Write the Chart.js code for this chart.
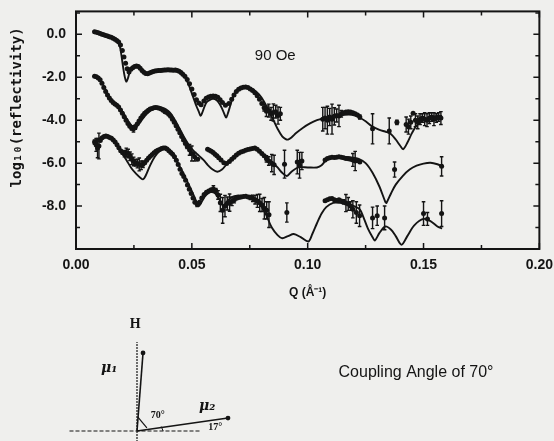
<!DOCTYPE html>
<html>
<head>
<meta charset="utf-8">
<script src="https://cdn.jsdelivr.net/npm/chart.js@4.4.0/dist/chart.umd.min.js"></script>
<style>
  html, body { margin: 0; padding: 0; background: #efefed; }
  #wrap { position: relative; width: 554px; height: 441px; overflow: hidden; }
  #mainBox { position: absolute; left: 0; top: -7px; width: 561px; height: 312px; }
  #vecBox { position: absolute; left: 0; top: 305px; width: 554px; height: 136px; }
</style>
</head>
<body>
<div id="wrap">
  <div id="mainBox"><canvas id="reflChart" width="561" height="312"></canvas></div>
  <div id="vecBox"><canvas id="vecChart" width="554" height="136"></canvas></div>
</div>
<script>
// measured points: [Q, log10(R), error bar half length]
const upPoints = [
  [0.0080,0.12,0],[0.0088,0.10,0],[0.0096,0.07,0],[0.0104,0.04,0],[0.0112,0.01,0],[0.0120,-0.02,0],
  [0.0128,-0.05,0],[0.0136,-0.08,0],[0.0144,-0.11,0],[0.0152,-0.14,0],[0.0160,-0.18,0],[0.0168,-0.23,0],
  [0.0176,-0.29,0],[0.0184,-0.36,0],[0.0192,-0.50,0],[0.0200,-0.75,0],[0.0207,-1.05,0],[0.0214,-1.35,0],
  [0.0221,-1.60,0],[0.0229,-1.75,0],[0.0237,-1.62,0],[0.0245,-1.55,0],[0.0253,-1.50,0],[0.0261,-1.47,0],
  [0.0269,-1.50,0],[0.0277,-1.58,0],[0.0285,-1.68,0],[0.0293,-1.76,0],[0.0301,-1.82,0],[0.0309,-1.84,0],
  [0.0317,-1.80,0],[0.0325,-1.76,0],[0.0333,-1.73,0],[0.0341,-1.71,0],[0.0349,-1.70,0],[0.0357,-1.68,0],
  [0.0365,-1.68,0],[0.0373,-1.67,0],[0.0381,-1.66,0],[0.0389,-1.66,0],[0.0397,-1.65,0],[0.0405,-1.66,0],
  [0.0413,-1.66,0],[0.0421,-1.67,0],[0.0429,-1.66,0],[0.0437,-1.68,0],[0.0445,-1.72,0],[0.0453,-1.78,0],
  [0.0461,-1.86,0],[0.0470,-1.95,0],[0.0480,-2.10,0],[0.0490,-2.30,0],[0.0500,-2.55,0],[0.0510,-2.80,0],
  [0.0520,-3.05,0],[0.0530,-3.20,0],[0.0540,-3.28,0],[0.0552,-3.10,0],[0.0562,-2.98,0],[0.0572,-2.92,0],
  [0.0582,-2.88,0],[0.0592,-2.87,0],[0.0602,-2.88,0],[0.0612,-2.93,0],[0.0622,-3.05,0],[0.0632,-3.18,0],
  [0.0645,-3.30,0],[0.0660,-3.22,0],[0.0672,-3.02,0],[0.0682,-2.82,0],[0.0692,-2.66,0],[0.0702,-2.56,0],
  [0.0712,-2.50,0],[0.0722,-2.46,0],[0.0732,-2.45,0],[0.0742,-2.48,0],[0.0752,-2.54,0],[0.0762,-2.62,0],
  [0.0772,-2.72,0],[0.0782,-2.86,0],[0.0792,-3.02,0],[0.0802,-3.22,0],[0.0812,-3.42,0.15],[0.0822,-3.58,0.25],
  [0.0832,-3.55,0.3],[0.0842,-3.70,0.3],[0.0852,-3.64,0.4],[0.0862,-3.60,0.3],[0.0872,-3.78,0.4],[0.0882,-3.70,0.3],
  [0.1065,-3.95,0.55],[0.1075,-3.90,0.5],[0.1085,-4.00,0.65],[0.1095,-3.85,0.4],[0.1105,-3.95,0.7],[0.1115,-3.82,0.4],
  [0.1125,-3.78,0.3],[0.1135,-3.80,0.5],[0.1145,-3.70,0.15],[0.1155,-3.65,0],[0.1165,-3.62,0],[0.1175,-3.60,0],
  [0.1185,-3.62,0],[0.1195,-3.65,0],[0.1205,-3.70,0],[0.1215,-3.76,0],[0.1225,-3.85,0.1],
  [0.1280,-4.40,0.7],[0.1352,-4.50,0.6],[0.1385,-4.10,0.1],[0.1425,-4.20,0.35],[0.1435,-4.30,0.35],
  [0.1445,-4.10,0.3],[0.1455,-3.67,0],[0.1465,-4.00,0.3],[0.1475,-4.10,0.3],[0.1485,-3.95,0.25],
  [0.1495,-3.90,0.2],[0.1505,-3.95,0.3],[0.1515,-4.00,0.3],[0.1525,-3.90,0.25],[0.1535,-3.85,0.2],
  [0.1545,-3.95,0.3],[0.1555,-3.90,0.2],[0.1565,-3.85,0.2],[0.1575,-3.90,0.3]
];

const downPoints = [
  [0.0080,-1.95,0],[0.0088,-1.98,0],[0.0096,-2.03,0],[0.0104,-2.12,0],[0.0112,-2.28,0],[0.0120,-2.48,0],
  [0.0128,-2.66,0],[0.0136,-2.82,0],[0.0144,-2.96,0],[0.0152,-3.08,0],[0.0160,-3.18,0],[0.0168,-3.25,0],
  [0.0176,-3.30,0],[0.0184,-3.38,0],[0.0192,-3.52,0],[0.0200,-3.68,0],[0.0208,-3.84,0],[0.0216,-4.00,0],
  [0.0224,-4.15,0],[0.0232,-4.28,0],[0.0240,-4.36,0.1],[0.0248,-4.40,0.15],[0.0256,-4.32,0.1],[0.0264,-4.18,0],
  [0.0272,-4.04,0],[0.0280,-3.90,0],[0.0288,-3.78,0],[0.0296,-3.68,0],[0.0304,-3.60,0],[0.0312,-3.53,0],
  [0.0320,-3.48,0],[0.0328,-3.45,0],[0.0336,-3.42,0],[0.0344,-3.41,0],[0.0352,-3.42,0],[0.0360,-3.44,0],
  [0.0368,-3.48,0],[0.0376,-3.54,0],[0.0384,-3.60,0],[0.0392,-3.64,0],[0.0400,-3.72,0],[0.0408,-3.82,0],
  [0.0416,-3.95,0],[0.0424,-4.10,0],[0.0432,-4.26,0],[0.0440,-4.42,0],[0.0448,-4.58,0],[0.0456,-4.76,0],
  [0.0464,-4.92,0],[0.0472,-5.08,0],[0.0480,-5.22,0.1],[0.0490,-5.38,0.25],[0.0500,-5.55,0.35],[0.0512,-5.70,0.2],
  [0.0525,-5.82,0],[0.0568,-5.35,0],[0.0576,-5.40,0],[0.0584,-5.45,0],[0.0592,-5.50,0],[0.0600,-5.58,0],
  [0.0608,-5.66,0],[0.0616,-5.75,0],[0.0626,-5.85,0],[0.0638,-5.98,0],[0.0650,-6.02,0],[0.0662,-5.92,0],
  [0.0672,-5.82,0],[0.0682,-5.72,0],[0.0692,-5.62,0],[0.0702,-5.54,0],[0.0712,-5.48,0],[0.0722,-5.44,0],
  [0.0732,-5.40,0],[0.0742,-5.37,0],[0.0752,-5.34,0],[0.0762,-5.32,0],[0.0772,-5.30,0],[0.0782,-5.35,0],
  [0.0792,-5.45,0],[0.0802,-5.55,0],[0.0812,-5.66,0],[0.0822,-5.80,0.15],[0.0832,-5.90,0.2],[0.0845,-6.00,0.4],
  [0.0855,-6.08,0.45],[0.0900,-6.05,0.65],[0.0955,-5.95,0.55],[0.0965,-6.10,0.6],[0.0975,-5.90,0.4],
  [0.1075,-5.85,0],[0.1085,-5.78,0],[0.1095,-5.75,0],[0.1105,-5.72,0],[0.1115,-5.74,0],[0.1125,-5.72,0],
  [0.1135,-5.70,0],[0.1145,-5.73,0],[0.1155,-5.75,0],[0.1165,-5.78,0],[0.1175,-5.80,0],[0.1185,-5.82,0],
  [0.1195,-5.85,0.3],[0.1205,-5.90,0.45],[0.1215,-5.88,0],[0.1225,-5.95,0],
  [0.1375,-6.30,0.35],[0.1578,-6.15,0.45]
];

const flipPoints = [
  [0.0080,-5.02,0.1],[0.0087,-5.15,0.3],[0.0093,-5.30,0.45],[0.0099,-5.20,0.6],[0.0105,-4.95,0],[0.0113,-4.82,0],
  [0.0121,-4.76,0],[0.0129,-4.74,0],[0.0137,-4.76,0],[0.0145,-4.80,0],[0.0153,-4.84,0],[0.0161,-4.92,0],
  [0.0169,-5.02,0],[0.0177,-5.14,0],[0.0185,-5.28,0],[0.0193,-5.42,0],[0.0201,-5.52,0],[0.0209,-5.56,0.15],
  [0.0217,-5.50,0.2],[0.0225,-5.55,0.2],[0.0233,-5.68,0.2],[0.0241,-5.82,0.25],[0.0249,-5.92,0.2],[0.0257,-5.98,0.15],
  [0.0265,-6.02,0.2],[0.0273,-6.06,0.3],[0.0281,-6.10,0.2],[0.0289,-6.05,0.15],[0.0297,-5.98,0],[0.0305,-5.86,0],
  [0.0313,-5.76,0],[0.0321,-5.68,0],[0.0329,-5.60,0],[0.0337,-5.52,0],[0.0345,-5.45,0],[0.0353,-5.40,0],
  [0.0361,-5.36,0],[0.0369,-5.32,0],[0.0377,-5.30,0],[0.0385,-5.30,0],[0.0393,-5.34,0],[0.0401,-5.42,0],
  [0.0409,-5.50,0],[0.0417,-5.58,0],[0.0425,-5.70,0],[0.0433,-5.86,0],[0.0441,-6.06,0],[0.0449,-6.28,0],
  [0.0457,-6.48,0],[0.0465,-6.62,0],[0.0473,-6.80,0],[0.0481,-7.02,0],[0.0489,-7.22,0],[0.0497,-7.42,0],
  [0.0505,-7.62,0],[0.0513,-7.82,0],[0.0523,-7.92,0.1],[0.0533,-7.82,0],[0.0543,-7.62,0],[0.0553,-7.46,0],
  [0.0563,-7.36,0],[0.0573,-7.30,0],[0.0583,-7.24,0],[0.0593,-7.20,0.15],[0.0603,-7.28,0.1],[0.0613,-7.48,0.2],
  [0.0623,-7.85,0.4],[0.0633,-8.20,0.6],[0.0643,-8.00,0.5],[0.0653,-7.88,0.3],[0.0663,-7.84,0.4],[0.0673,-7.78,0.2],
  [0.0683,-7.70,0.15],[0.0693,-7.64,0],[0.0703,-7.60,0],[0.0713,-7.58,0],[0.0723,-7.55,0],[0.0733,-7.54,0],
  [0.0743,-7.58,0],[0.0753,-7.60,0.1],[0.0763,-7.64,0.15],[0.0773,-7.70,0.2],[0.0783,-7.76,0.3],[0.0793,-7.85,0.4],
  [0.0803,-7.95,0.3],[0.0813,-8.10,0.5],[0.0823,-8.20,0.4],[0.0833,-8.40,0.6],[0.0910,-8.30,0.45],
  [0.1075,-7.75,0],[0.1085,-7.70,0],[0.1095,-7.66,0],[0.1105,-7.65,0],[0.1115,-7.70,0],[0.1125,-7.74,0],
  [0.1135,-7.70,0],[0.1145,-7.76,0],[0.1155,-7.80,0.1],[0.1165,-7.86,0.4],[0.1175,-7.90,0.3],[0.1185,-8.00,0.2],
  [0.1195,-8.15,0.4],[0.1210,-8.30,0.5],[0.1224,-8.45,0.5],[0.1280,-8.55,0.5],[0.1300,-8.45,0.45],
  [0.1332,-8.55,0.55],[0.1500,-8.35,0.55],[0.1517,-8.60,0.3],[0.1578,-8.35,0.6]
];

// model curves: [Q, log10(R)]
const upFit = [
  [0.008,0.12],[0.010,0.06],[0.012,0.0],[0.014,-0.10],[0.016,-0.18],[0.017,-0.24],[0.018,-0.33],
  [0.0188,-0.5],[0.0195,-0.9],[0.0203,-1.5],[0.0210,-1.95],[0.0217,-2.2],[0.0224,-2.05],[0.0232,-1.75],
  [0.024,-1.6],[0.025,-1.52],[0.026,-1.48],[0.027,-1.5],[0.028,-1.6],[0.029,-1.72],[0.030,-1.82],
  [0.031,-1.85],[0.032,-1.8],[0.034,-1.72],[0.036,-1.68],[0.038,-1.66],[0.040,-1.65],[0.042,-1.66],
  [0.044,-1.7],[0.045,-1.76],[0.046,-1.85],[0.047,-2.0],[0.048,-2.2],[0.049,-2.45],[0.050,-2.75],
  [0.051,-3.05],[0.052,-3.35],[0.053,-3.6],[0.0538,-3.8],[0.0545,-3.65],[0.0555,-3.35],[0.0565,-3.15],
  [0.0578,-3.05],[0.059,-3.0],[0.060,-3.02],[0.061,-3.1],[0.062,-3.25],[0.063,-3.45],[0.064,-3.7],
  [0.0648,-3.88],[0.0655,-3.7],[0.0665,-3.35],[0.0675,-3.0],[0.069,-2.7],[0.071,-2.55],[0.073,-2.48],
  [0.075,-2.5],[0.077,-2.6],[0.079,-2.8],[0.081,-3.1],[0.083,-3.5],[0.085,-3.95],[0.087,-4.4],
  [0.089,-4.75],[0.0905,-4.88],[0.0915,-4.9],[0.093,-4.8],[0.095,-4.6],[0.098,-4.35],[0.101,-4.15],
  [0.104,-4.0],[0.107,-3.9],[0.110,-3.85],[0.113,-3.8],[0.116,-3.75],[0.119,-3.75],[0.122,-3.85],
  [0.125,-4.05],[0.128,-4.3],[0.131,-4.45],[0.134,-4.55],[0.136,-4.65],[0.138,-4.9],[0.140,-5.2],
  [0.1412,-5.35],[0.143,-5.05],[0.145,-4.6],[0.147,-4.25],[0.150,-4.0],[0.153,-3.85],[0.156,-3.8],[0.158,-3.8]
];

const downFit = [
  [0.008,-1.95],[0.010,-2.1],[0.012,-2.4],[0.014,-2.85],[0.016,-3.15],[0.018,-3.35],[0.020,-3.6],
  [0.022,-3.95],[0.024,-4.25],[0.0255,-4.35],[0.027,-4.2],[0.029,-3.9],[0.031,-3.65],[0.033,-3.5],
  [0.035,-3.43],[0.037,-3.42],[0.039,-3.5],[0.041,-3.7],[0.043,-4.05],[0.045,-4.45],[0.047,-4.85],
  [0.049,-5.2],[0.051,-5.45],[0.053,-5.65],[0.055,-5.85],[0.057,-6.1],[0.059,-6.3],[0.061,-6.4],
  [0.063,-6.3],[0.065,-6.05],[0.067,-5.8],[0.069,-5.6],[0.071,-5.48],[0.073,-5.42],[0.075,-5.35],
  [0.077,-5.35],[0.079,-5.45],[0.081,-5.6],[0.083,-5.8],[0.085,-6.0],[0.087,-6.2],[0.089,-6.45],
  [0.091,-6.6],[0.093,-6.4],[0.096,-6.2],[0.100,-6.2],[0.104,-6.2],[0.106,-6.1],[0.108,-5.85],
  [0.110,-5.75],[0.114,-5.7],[0.118,-5.72],[0.122,-5.8],[0.125,-6.0],[0.128,-6.45],[0.131,-7.1],
  [0.1335,-7.8],[0.134,-7.85],[0.136,-7.4],[0.138,-7.0],[0.141,-6.6],[0.144,-6.3],[0.147,-6.12],
  [0.150,-6.02],[0.153,-5.98],[0.156,-6.05],[0.158,-6.15]
];

const flipFit = [
  [0.008,-5.0],[0.010,-4.85],[0.012,-4.75],[0.014,-4.78],[0.016,-4.9],[0.018,-5.2],[0.020,-5.55],
  [0.022,-5.9],[0.024,-6.25],[0.026,-6.5],[0.028,-6.7],[0.029,-6.75],[0.030,-6.6],[0.032,-6.1],
  [0.034,-5.7],[0.036,-5.45],[0.038,-5.33],[0.040,-5.35],[0.042,-5.6],[0.044,-6.0],[0.046,-6.4],
  [0.048,-6.85],[0.050,-7.3],[0.052,-7.8],[0.053,-8.0],[0.0545,-7.75],[0.056,-7.5],[0.058,-7.35],
  [0.060,-7.4],[0.062,-7.7],[0.0635,-8.0],[0.065,-7.8],[0.067,-7.6],[0.070,-7.5],[0.073,-7.55],
  [0.076,-7.65],[0.079,-7.85],[0.082,-8.4],[0.0845,-9.0],[0.087,-9.35],[0.089,-9.5],[0.0915,-9.4],
  [0.094,-9.3],[0.097,-9.45],[0.1003,-9.65],[0.102,-9.3],[0.104,-8.8],[0.106,-8.35],[0.108,-8.05],
  [0.111,-7.85],[0.114,-7.85],[0.117,-7.9],[0.120,-8.0],[0.1225,-8.15],[0.124,-8.5],[0.126,-9.05],
  [0.128,-9.45],[0.129,-9.6],[0.131,-9.25],[0.1335,-8.95],[0.136,-9.1],[0.138,-9.4],[0.1405,-9.8],
  [0.143,-9.4],[0.146,-8.9],[0.150,-8.6],[0.153,-8.7],[0.156,-8.95],[0.158,-9.05]
];

const xTickValues = [0, 0.05, 0.10, 0.15, 0.20];
const yTickValues = [-8, -6, -4, -2, 0];
const fieldLabel = { text: '90 Oe', q: 0.086, r: -1.0 };

// vector sketch (units of the sketch, origin at the field axis)
const fieldAxis = [[0, -0.12], [0, 0.99]];
const planeLine = [[-0.75, 0], [0.70, 0]];
const mu1Vector = [[0, 0], [0.067, 0.867]];
const mu2Vector = [[0, 0], [1.011, 0.144]];
const angleMark = [[0.008, 0.156], [0.11, 0.034]];
const tiltMark = [[0.29, 0.0], [0.27, 0.05]];
const sketchLabels = [
  { text: 'H', x: -0.02, y: 1.18, font: 'bold 14px "Liberation Serif"' },
  { text: 'μ₁', x: -0.31, y: 0.70, font: 'bold italic 14px "DejaVu Serif"' },
  { text: 'μ₂', x: 0.78, y: 0.27, font: 'bold italic 14px "DejaVu Serif"' },
  { text: '70°', x: 0.23, y: 0.17, font: 'bold 10px "Liberation Serif"' },
  { text: '17°', x: 0.87, y: 0.035, font: 'bold 10px "Liberation Serif"' },
  { text: 'Coupling Angle of 70°', x: 3.10, y: 0.645, font: '16px "Liberation Sans"' }
];

const ink = '#141414';
const toXY = arr => arr.map(p => ({ x: p[0], y: p[1], err: p[2] || 0 }));

function pointSet(points) {
  return {
    type: 'scatter',
    data: toXY(points),
    pointRadius: 2.5,
    pointBackgroundColor: ink,
    pointBorderWidth: 0,
    showLine: false
  };
}

function fitSet(points) {
  return {
    type: 'line',
    data: toXY(points),
    borderColor: ink,
    borderWidth: 1.9,
    pointRadius: 0,
    tension: 0.3,
    fill: false
  };
}

// error bars, frame with inward ticks, y title and the field label
const reflDecor = {
  id: 'reflDecor',
  afterDatasetsDraw(chart) {
    const { ctx, scales: { x, y } } = chart;
    ctx.save();
    ctx.strokeStyle = ink;
    ctx.lineWidth = 1.4;
    chart.data.datasets.forEach(ds => {
      if (ds.type !== 'scatter') return;
      ds.data.forEach(p => {
        if (!p.err) return;
        const px = x.getPixelForValue(p.x);
        const t = y.getPixelForValue(p.y + p.err);
        const b = y.getPixelForValue(p.y - p.err);
        ctx.beginPath();
        ctx.moveTo(px, t); ctx.lineTo(px, b);
        ctx.moveTo(px - 1.8, t); ctx.lineTo(px + 1.8, t);
        ctx.moveTo(px - 1.8, b); ctx.lineTo(px + 1.8, b);
        ctx.stroke();
      });
    });
    ctx.restore();
  },
  afterDraw(chart) {
    const { ctx, chartArea: a, scales: { x, y } } = chart;
    ctx.save();
    ctx.strokeStyle = ink;
    ctx.lineWidth = 2;
    ctx.strokeRect(a.left, a.top, a.right - a.left, a.bottom - a.top);
    ctx.lineWidth = 1.5;
    ctx.beginPath();
    for (let i = 0; i <= 8; i++) {
      const px = x.getPixelForValue(i * 0.025);
      const len = i % 2 === 0 ? 6 : 4;
      ctx.moveTo(px, a.bottom); ctx.lineTo(px, a.bottom - len);
      ctx.moveTo(px, a.top); ctx.lineTo(px, a.top + len);
    }
    for (let v = -10; v <= 1; v++) {
      const py = y.getPixelForValue(v);
      const len = v % 2 === 0 ? 6 : 4;
      ctx.moveTo(a.left, py); ctx.lineTo(a.left + len, py);
      ctx.moveTo(a.right, py); ctx.lineTo(a.right - len, py);
    }
    ctx.stroke();

    ctx.fillStyle = ink;
    ctx.font = '15px "Liberation Sans"';
    ctx.textAlign = 'center';
    ctx.textBaseline = 'middle';
    ctx.fillText(fieldLabel.text, x.getPixelForValue(fieldLabel.q), y.getPixelForValue(fieldLabel.r));

    ctx.translate(17, a.top + 96);
    ctx.rotate(-Math.PI / 2);
    ctx.font = 'bold 14px "DejaVu Sans Mono"';
    ctx.fillText('log₁₀(reflectivity)', 0, 0);
    ctx.restore();
  }
};

new Chart(document.getElementById('reflChart'), {
  type: 'scatter',
  data: {
    datasets: [
      pointSet(upPoints), pointSet(downPoints), pointSet(flipPoints),
      fitSet(upFit), fitSet(downFit), fitSet(flipFit)
    ]
  },
  options: {
    responsive: false,
    animation: false,
    layout: { padding: { left: 0, right: 7, top: 3, bottom: 0 } },
    plugins: { legend: { display: false }, tooltip: { enabled: false } },
    scales: {
      x: {
        type: 'linear', min: 0, max: 0.2,
        grid: { display: false, drawTicks: false },
        border: { display: false },
        afterBuildTicks: s => { s.ticks = xTickValues.map(v => ({ value: v })); },
        afterFit: s => { s.height = 56; },
        ticks: {
          padding: 8, color: ink, maxRotation: 0,
          font: { family: '"Liberation Sans"', size: 14, weight: 'bold' },
          callback: v => Number(v).toFixed(2)
        },
        title: {
          display: true, text: 'Q (Å⁻¹)', color: ink,
          font: { family: '"Liberation Sans"', size: 12, weight: 'bold' },
          padding: { top: 0, bottom: 5 }
        }
      },
      y: {
        type: 'linear', min: -10, max: 1.07,
        grid: { display: false, drawTicks: false },
        border: { display: false },
        afterBuildTicks: s => { s.ticks = yTickValues.map(v => ({ value: v })); },
        afterFit: s => { s.width = 76; },
        ticks: {
          padding: 10, color: ink,
          font: { family: '"Liberation Sans"', size: 14, weight: 'bold' },
          callback: v => Number(v).toFixed(1)
        }
      }
    }
  },
  plugins: [reflDecor]
});

// second chart: the moment sketch
const sketchText = {
  id: 'sketchText',
  afterDraw(chart) {
    const { ctx, scales: { x, y } } = chart;
    ctx.save();
    ctx.fillStyle = ink;
    ctx.textAlign = 'center';
    ctx.textBaseline = 'middle';
    sketchLabels.forEach(l => {
      ctx.font = l.font;
      ctx.fillText(l.text, x.getPixelForValue(l.x), y.getPixelForValue(l.y));
    });
    ctx.restore();
  }
};

function sketchLine(points, opts) {
  return Object.assign({
    data: toXY(points),
    showLine: true,
    borderColor: ink,
    borderWidth: 1.6,
    pointRadius: 0,
    pointBackgroundColor: ink,
    pointBorderWidth: 0
  }, opts || {});
}

new Chart(document.getElementById('vecChart'), {
  type: 'scatter',
  data: {
    datasets: [
      sketchLine(fieldAxis, { borderDash: [1.5, 1.5], borderWidth: 1.6 }),
      sketchLine(planeLine, { borderDash: [4, 2], borderWidth: 1.1 }),
      sketchLine(mu1Vector, { pointRadius: [0, 2.4] }),
      sketchLine(mu2Vector, { pointRadius: [0, 2.4] }),
      sketchLine(angleMark, { borderWidth: 1.2 }),
      sketchLine(tiltMark, { borderWidth: 1.0 })
    ]
  },
  options: {
    responsive: false,
    animation: false,
    layout: { autoPadding: false, padding: 0 },
    plugins: { legend: { display: false }, tooltip: { enabled: false } },
    scales: {
      x: { type: 'linear', display: false, min: -1.522, max: 4.633 },
      y: { type: 'linear', display: false, min: -0.111, max: 1.40 }
    }
  },
  plugins: [sketchText]
});
</script>
</body>
</html>
